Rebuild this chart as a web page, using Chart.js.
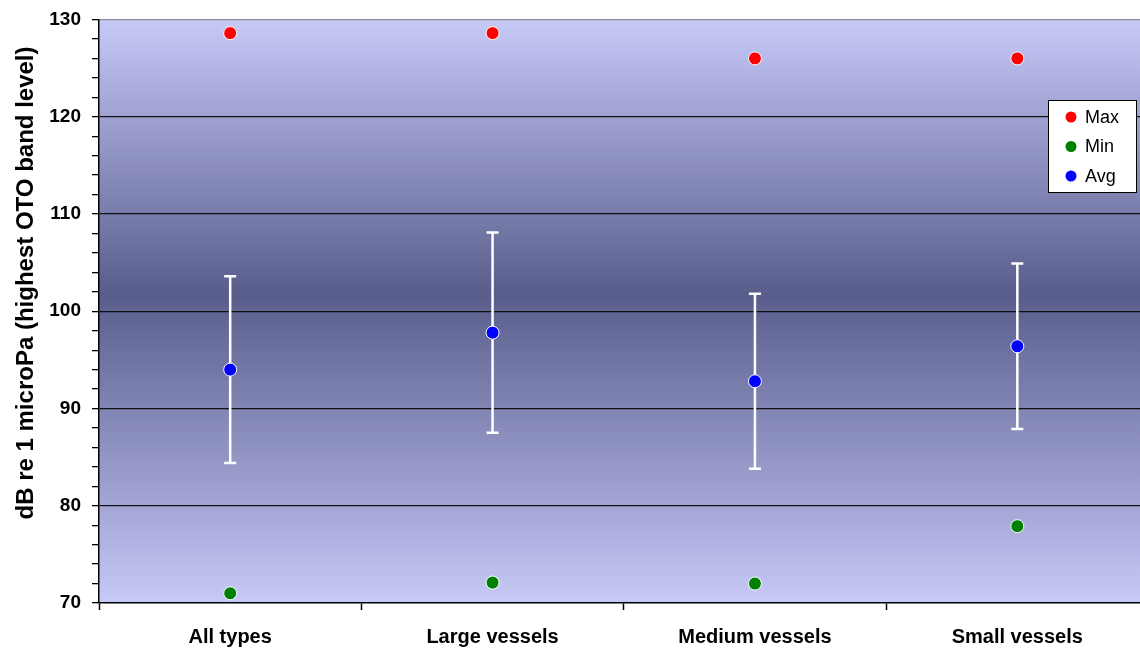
<!DOCTYPE html>
<html>
<head>
<meta charset="utf-8">
<script src="https://cdn.jsdelivr.net/npm/chart.js@4.4.1/dist/chart.umd.min.js"></script>
<style>
  html, body { margin: 0; padding: 0; background: #fff; overflow: hidden; }
  #wrap { width: 1140px; height: 651px; overflow: hidden; }
  canvas { display: block; }
</style>
</head>
<body>
<div id="wrap"><canvas id="chart" width="1156" height="651"></canvas></div>
<script>
// values
const categories = ['All types', 'Large vessels', 'Medium vessels', 'Small vessels'];
const maxVals = [128.6, 128.6, 126.0, 126.0];
const minVals = [71.0, 72.1, 72.0, 77.9];
const avgVals = [94.0, 97.8, 92.8, 96.4];
const sdVals = [9.6, 10.3, 9.0, 8.5];
const yTicks = [70, 80, 90, 100, 110, 120, 130];

const yTitle = 'dB re 1 microPa (highest OTO band level)';
const font = 'Liberation Sans, Arial, sans-serif';

// gradient behind the plot
const plotBackground = {
    id: 'plotBackground',
    beforeDraw(chart) {
        const { ctx, chartArea: a } = chart;
        const g = ctx.createLinearGradient(0, a.top, 0, a.bottom);
        g.addColorStop(0, '#c7c9f7');
        g.addColorStop(0.47, '#585d8c');
        g.addColorStop(1, '#c7c9f7');
        ctx.save();
        ctx.fillStyle = g;
        ctx.fillRect(a.left, a.top, a.right - a.left, a.bottom - a.top);
        ctx.restore();
    }
};

// avg +/- sd whiskers, drawn under the points
const errorBars = {
    id: 'errorBars',
    beforeDatasetsDraw(chart) {
        const { ctx, scales: { x, y } } = chart;
        ctx.save();
        ctx.strokeStyle = '#ffffff';
        ctx.lineWidth = 2.5;
        avgVals.forEach((v, i) => {
            const px = x.getPixelForValue(i);
            const top = y.getPixelForValue(v + sdVals[i]);
            const bot = y.getPixelForValue(v - sdVals[i]);
            ctx.beginPath();
            ctx.moveTo(px, top); ctx.lineTo(px, bot);
            ctx.moveTo(px - 6, top); ctx.lineTo(px + 6, top);
            ctx.moveTo(px - 6, bot); ctx.lineTo(px + 6, bot);
            ctx.stroke();
        });
        ctx.restore();
    }
};

// boxed legend inside the plot and the offset y title
const extras = {
    id: 'extras',
    afterDraw(chart) {
        const ctx = chart.ctx;
        ctx.save();
        ctx.fillStyle = '#ffffff';
        ctx.fillRect(1048, 100, 88, 92);
        ctx.strokeStyle = '#000000';
        ctx.lineWidth = 1;
        ctx.strokeRect(1048.5, 100.5, 88, 92);
        ctx.font = '18px ' + font;
        ctx.textBaseline = 'middle';
        chart.data.datasets.forEach((ds, i) => {
            const cy = 117 + i * 29.5;
            ctx.beginPath();
            ctx.arc(1071, cy, 5.5, 0, Math.PI * 2);
            ctx.fillStyle = ds.backgroundColor;
            ctx.fill();
            ctx.fillStyle = '#000000';
            ctx.fillText(ds.label, 1085, cy + 1);
        });

        ctx.translate(26, 283);
        ctx.rotate(-Math.PI / 2);
        ctx.font = 'bold 24px ' + font;
        ctx.textAlign = 'center';
        ctx.fillStyle = '#000000';
        ctx.fillText(yTitle, 0, 0);
        ctx.restore();
    }
};

const pointStyle = {
    showLine: false,
    pointRadius: 6.5,
    pointHoverRadius: 6.5,
    pointBorderColor: '#ffffff',
    pointBorderWidth: 1
};

new Chart(document.getElementById('chart'), {
    type: 'line',
    data: {
        labels: categories,
        datasets: [
            { label: 'Max', data: maxVals, backgroundColor: '#ff0000', ...pointStyle },
            { label: 'Min', data: minVals, backgroundColor: '#008000', ...pointStyle },
            { label: 'Avg', data: avgVals, backgroundColor: '#0000ff', ...pointStyle }
        ]
    },
    options: {
        responsive: false,
        animation: false,
        layout: { padding: { top: 19.5, right: 0, left: 0, bottom: 0 } },
        plugins: { legend: { display: false }, tooltip: { enabled: false } },
        scales: {
            x: {
                offset: true,
                grid: { offset: true, drawOnChartArea: false, tickLength: 7, tickColor: '#000', tickWidth: 1.5 },
                border: { color: '#000', width: 1.5 },
                ticks: { color: '#000', font: { family: font, size: 20, weight: 'bold' }, padding: 15, maxRotation: 0 },
                afterFit(s) { s.height = 48; }
            },
            y: {
                min: 70,
                max: 130,
                afterBuildTicks(s) {
                    s.ticks = [];
                    for (let v = 70; v <= 130; v += 2) s.ticks.push({ value: v });
                },
                grid: {
                    color: c => (c.tick.value === 130 ? '#8a8a9a' : yTicks.includes(c.tick.value) && c.tick.value !== 70 ? '#111' : 'rgba(0,0,0,0)'),
                    lineWidth: 1.3,
                    tickLength: 7,
                    tickColor: '#000',
                    tickWidth: 1.3
                },
                border: { color: '#000', width: 1.5 },
                ticks: {
                    autoSkip: false,
                    color: '#000',
                    font: { family: font, size: 19, weight: 'bold' },
                    padding: 11,
                    callback: v => (yTicks.includes(v) ? String(v) : '')
                },
                afterFit(s) {
                    s.width = 99;
                    s.paddingTop = 0;
                    s.paddingBottom = 0;
                }
            }
        }
    },
    plugins: [plotBackground, errorBars, extras]
});
</script>
</body>
</html>
